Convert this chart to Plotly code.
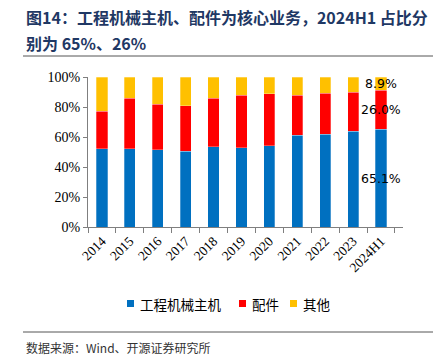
import plotly.graph_objects as go

categories = ["2014", "2015", "2016", "2017", "2018", "2019", "2020", "2021", "2022", "2023", "2024H1"]
host = [52.2, 52.2, 51.6, 50.4, 53.6, 52.9, 54.2, 61.3, 62.0, 63.8, 65.1]
parts = [25.1, 33.8, 30.4, 30.3, 32.4, 35.1, 34.5, 26.7, 27.3, 26.2, 26.0]
other = [22.7, 14.0, 18.0, 19.3, 14.0, 12.0, 11.3, 12.0, 10.7, 10.0, 8.9]
series_names = ["工程机械主机", "配件", "其他"]
colors = ["#0070C0", "#FF0000", "#FFC000"]

# page body has an 8px default margin; lay the figure out in screen pixels
OFF = 8
W, H = 441 - OFF, 362 - OFF
L, R, T, B = 88 - OFF, 38, 77 - OFF, 135
pw = W - L - R
ph = H - T - B

def px(x):
    return (x - OFF - L) / pw

def py(y):
    return (H - B - (y - OFF)) / ph

fig = go.Figure()
for name, vals, c in zip(series_names, [host, parts, other], colors):
    fig.add_trace(go.Bar(
        x=categories, y=[v / 100 for v in vals], name=name,
        marker=dict(color=c, line=dict(color="rgba(255,255,255,0.35)", width=0.8)),
    ))

# data labels on last bar
last = len(categories) - 1
cum = 0
for vals in [host, parts, other]:
    v = vals[last]
    fig.add_annotation(x=categories[last], y=(cum + v / 2) / 100, xref="x", yref="y",
                       text=f"{v:.1f}%", showarrow=False,
                       font=dict(family="DejaVu Sans", size=12.5, color="#000000"))
    cum += v

serif = "Liberation Serif, Times New Roman, serif"
cjk = "Noto Sans CJK SC"

fig.update_layout(
    width=W, height=H, barmode="stack", bargap=0.6,
    margin=dict(l=L, r=R, t=T, b=B, autoexpand=False),
    plot_bgcolor="white", paper_bgcolor="white",
    showlegend=False,
    xaxis=dict(type="category", showline=True, linecolor="#7f7f7f", linewidth=1,
               ticks="outside", tickson="boundaries", ticklen=5, tickcolor="#7f7f7f",
               tickangle=-45, tickfont=dict(family=serif, size=13.5, color="#000000")),
    yaxis=dict(range=[0, 1], dtick=0.2, tickformat=".0%", showgrid=False, zeroline=False,
               showline=True, linecolor="#7f7f7f", linewidth=1, ticks="outside", ticklen=4,
               tickcolor="#7f7f7f", tickfont=dict(family=serif, size=14, color="#000000")),
)

# custom legend
legend_sq_x = [127, 239, 290]
for name, c, sx in zip(series_names, colors, legend_sq_x):
    fig.add_shape(type="rect", xref="paper", yref="paper",
                  x0=px(sx), x1=px(sx + 7), y0=py(300), y1=py(307),
                  fillcolor=c, line=dict(width=0))
    fig.add_annotation(xref="paper", yref="paper", x=px(sx + 11), y=py(303.5),
                       xanchor="left", yanchor="middle", text=name, showarrow=False,
                       font=dict(family=cjk, size=13.5, color="#000000"))

title_color = "#1F3864"
fig.add_annotation(xref="paper", yref="paper", x=px(24), y=py(17), xanchor="left", yanchor="middle",
                   text="<b>图14：工程机械主机、配件为核心业务，2024H1 占比分</b>", showarrow=False,
                   font=dict(family=cjk, size=16, color=title_color))
fig.add_annotation(xref="paper", yref="paper", x=px(24), y=py(43), xanchor="left", yanchor="middle",
                   text="<b>别为 65%、26%</b>", showarrow=False,
                   font=dict(family=cjk, size=16, color=title_color))
fig.add_annotation(xref="paper", yref="paper", x=px(24), y=py(347), xanchor="left", yanchor="middle",
                   text="数据来源：Wind、开源证券研究所", showarrow=False,
                   font=dict(family=cjk, size=12, color="#333333"))
for yy in [56, 332]:
    fig.add_shape(type="line", xref="paper", yref="paper", x0=px(23), x1=px(435), y0=py(yy), y1=py(yy),
                  line=dict(color="#555555", width=1))

fig.write_html("out.html")
